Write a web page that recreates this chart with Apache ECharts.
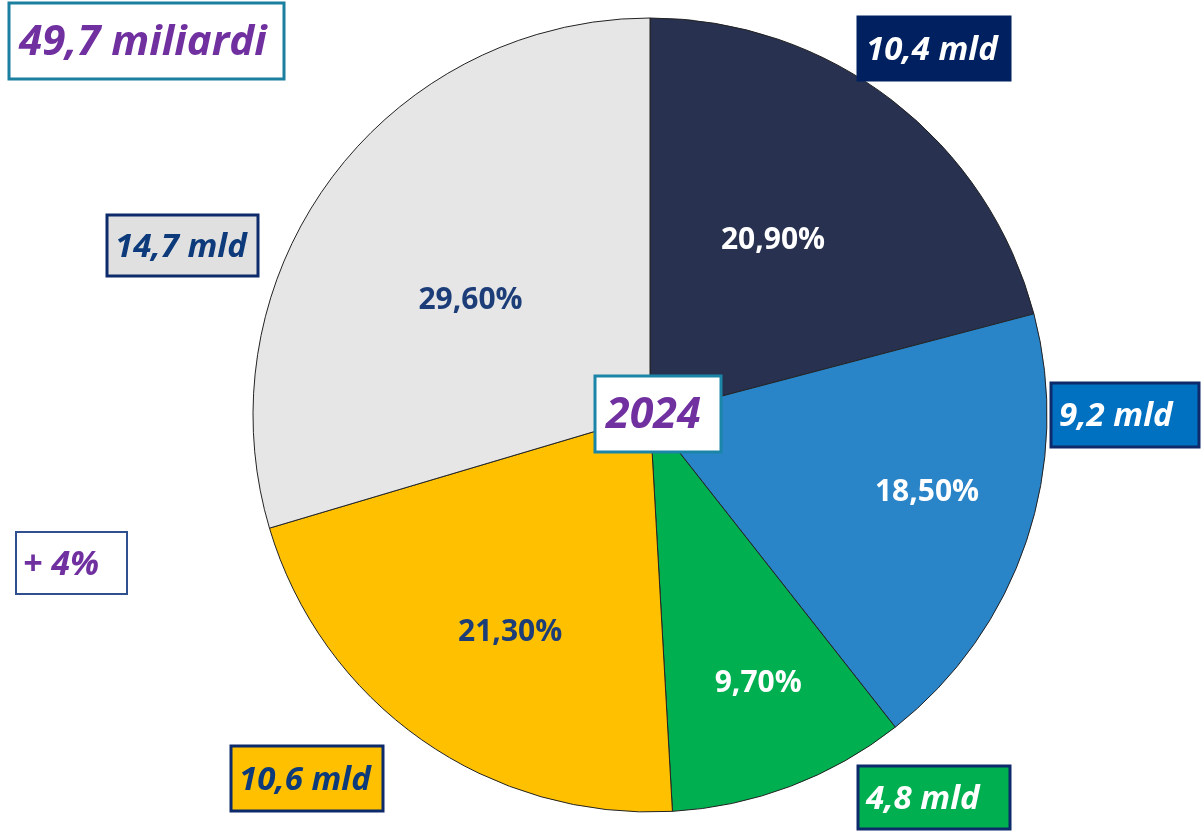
<!DOCTYPE html>
<html>
<head>
<meta charset="utf-8">
<script src="https://cdn.jsdelivr.net/npm/echarts@6/dist/echarts.min.js"></script>
<style>
  html, body { margin: 0; padding: 0; background: #fff; }
  #chart { width: 1204px; height: 840px; }
</style>
</head>
<body>
<div id="chart"></div>
<script>
// slices, clockwise from 12 o'clock
const names = ['s1', 's2', 's3', 's4', 's5'];
const shares = [20.9, 18.5, 9.7, 21.3, 29.6];
const amounts = ['10,4', '9,2', '4,8', '10,6', '14,7'];
const total = '49,7 miliardi';
const year = '2024';
const growth = '+ 4%';

const FONT = '"Open Sans"';
const colors = ['#283250', '#2a84c8', '#00b050', '#ffc000', '#e6e6e6'];
const labelColors = ['#fff', '#fff', '#fff', '#1c3d78', '#1c3d78'];
const labelOffsets = [[0, -15], [86, 13], [37, 80], [-24, 53], [-18, 6]];

// boxes: [x, y, w, h, fill, border, text colour]
const amountBoxes = [
  [858, 17, 152, 63, '#002060', '#002060', '#fff'],
  [1051, 383, 148, 64, '#0070c0', '#0d2a6b', '#fff'],
  [858, 766, 152, 63, '#00b050', '#0d2a6b', '#fff'],
  [231, 746, 152, 65, '#ffc000', '#0d2a6b', '#0d3a7a'],
  [107, 215, 151, 61, '#e0e0e0', '#0d2a6b', '#0d3a7a']
];

function box(x, y, w, h, fill, border, bw, text, color, size, padLeft) {
  return {
    type: 'group',
    children: [
      { type: 'rect', shape: { x: x, y: y, width: w, height: h },
        style: { fill: fill, stroke: border, lineWidth: bw }, z: 10 },
      { type: 'text', x: x + padLeft, y: y + h / 2 + 2, z: 11,
        style: { text: text, fill: color, font: 'italic bold ' + size + 'px ' + FONT,
                 textVerticalAlign: 'middle', textAlign: 'left' } }
    ]
  };
}

const graphics = amountBoxes.map((b, i) =>
  box(b[0], b[1], b[2], b[3], b[4], b[5], 3, amounts[i] + ' mld', b[6], 33, 8));
graphics.push(box(9, 3, 275, 76, '#fff', '#1b7fa0', 3, total, '#7030a0', 42, 10));
graphics.push(box(16, 532, 111, 62, '#fff', '#2f4f8f', 2, growth, '#7030a0', 34, 7));
graphics.push(box(595, 376, 126, 76, '#fff', '#1b85a8', 3, year, '#7030a0', 43, 11));

const chart = echarts.init(document.getElementById('chart'));
chart.setOption({
  animation: false,
  series: [{
    type: 'pie',
    center: [650, 415],
    radius: 397,
    startAngle: 90,
    clockwise: true,
    silent: true,
    itemStyle: { borderColor: '#222', borderWidth: 1 },
    labelLine: { show: false },
    data: shares.map((v, i) => ({
      name: names[i],
      value: v,
      itemStyle: { color: colors[i] },
      label: { offset: labelOffsets[i], color: labelColors[i] }
    })),
    label: {
      show: true,
      position: 'inside',
      fontFamily: FONT,
      fontWeight: 'bold',
      fontSize: 30,
      formatter: p => p.value.toFixed(2).replace('.', ',') + '%'
    }
  }],
  graphic: graphics
});
</script>
</body>
</html>
